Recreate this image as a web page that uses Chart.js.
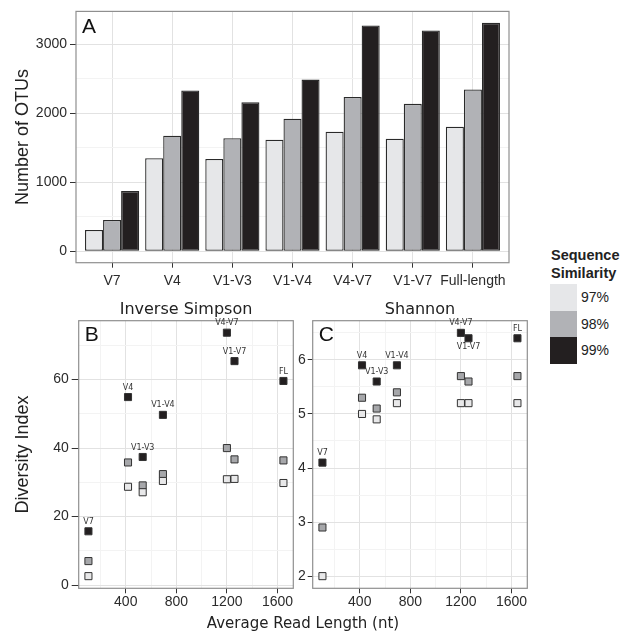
<!DOCTYPE html>
<html>
<head>
<meta charset="utf-8">
<script src="https://cdn.jsdelivr.net/npm/chart.js@4.4.1/dist/chart.umd.min.js"></script>
<style>
  body { margin: 0; background: #fff; width: 630px; height: 633px; position: relative; overflow: hidden;
         font-family: "Liberation Sans", Arial, sans-serif; color: #222; }
  canvas { position: absolute; }
  #chartA { left: 0; top: 0; }
  #chartB { left: 0; top: 295px; }
  #chartC { left: 290px; top: 295px; }
  #xtitle { position: absolute; left: 0; width: 606px; top: 614px; text-align: center;
            font: 15px "DejaVu Sans"; color: #222; }
  #legend { position: absolute; left: 550px; top: 247px; }
  #legend .ttl { font-weight: bold; font-size: 14.5px; line-height: 17.5px; margin-left: 1px; }
  #legend .keys { margin-top: 2px; }
  #legend .row { display: flex; align-items: center; height: 26.5px; }
  #legend .box { width: 27px; height: 26.5px; }
  #legend .lab { font-size: 14px; margin-left: 4px; }
</style>
</head>
<body>
<canvas id="chartA" width="540" height="295"></canvas>
<canvas id="chartB" width="300" height="320"></canvas>
<canvas id="chartC" width="250" height="320"></canvas>
<div id="xtitle">Average Read Length (nt)</div>
<div id="legend">
  <div class="ttl">Sequence<br>Similarity</div>
  <div class="keys" id="keys"></div>
</div>
<script>
// panel A: number of OTUs per region
let categories = ['V7', 'V4', 'V1-V3', 'V1-V4', 'V4-V7', 'V1-V7', 'Full-length'];
let otus97 = [309, 1350, 1340, 1618, 1734, 1633, 1806];
let otus98 = [453, 1676, 1639, 1922, 2240, 2139, 2347];
let otus99 = [873, 2332, 2163, 2491, 3276, 3204, 3315];

// panels B and C: diversity vs read length
let shortLabels = ['V7', 'V4', 'V1-V3', 'V1-V4', 'V4-V7', 'V1-V7', 'FL'];
let readLength = [105, 418, 534, 694, 1200, 1260, 1647];
let invSimpson97 = [2.6, 28.7, 27.1, 30.4, 30.9, 31.0, 29.8];
let invSimpson98 = [7.0, 35.8, 29.1, 32.4, 40.0, 36.7, 36.4];
let invSimpson99 = [15.7, 54.9, 37.4, 49.7, 73.7, 65.4, 59.6];
let shannon97 = [2.0, 5.0, 4.9, 5.2, 5.2, 5.2, 5.2];
let shannon98 = [2.9, 5.3, 5.1, 5.4, 5.7, 5.6, 5.7];
let shannon99 = [4.1, 5.9, 5.6, 5.9, 6.5, 6.4, 6.4];

let similarity = ['97%', '98%', '99%'];

// tick values (major get labels, minor only light grid)
let otuTicks = [0, 1000, 2000, 3000];
let otuMinor = [500, 1500, 2500];
let lengthTicks = [400, 800, 1200, 1600];
let lengthMinor = [200, 600, 1000, 1400];
let simpsonTicks = [0, 20, 40, 60];
let simpsonMinor = [10, 30, 50, 70];
let shannonTicks = [2, 3, 4, 5, 6];
let shannonMinor = [2.5, 3.5, 4.5, 5.5, 6.5];

let barColors = ['#e6e7e9', '#b1b2b6', '#231f20'];
let pointColors = ['#e8e8e9', '#a6a7aa', '#231f20'];

// legend (html)
let keys = document.getElementById('keys');
similarity.forEach((s, i) => {
  keys.innerHTML += '<div class="row"><div class="box" style="background:' + barColors[i] + '"></div><div class="lab">' + s + '</div></div>';
});

const tickFont = { family: 'Liberation Sans', size: 14 };

function linScale(majors, minors, min, max, tickLen, pad, fit, labelFn) {
  let all = majors.concat(minors).sort((a, b) => a - b);
  let isMinor = c => c.tick && minors.includes(c.tick.value);
  return {
    type: 'linear', min: min, max: max, offset: false,
    afterBuildTicks: s => { s.ticks = all.map(v => ({ value: v })); },
    afterFit: fit,
    grid: {
      color: c => isMinor(c) ? '#f3f3f3' : '#e2e2e2',
      tickColor: c => isMinor(c) ? 'rgba(0,0,0,0)' : '#333',
      tickLength: tickLen, lineWidth: 1, offset: false
    },
    border: { display: false },
    ticks: {
      font: tickFont, color: '#2b2b2b', padding: pad, autoSkip: false, maxRotation: 0,
      callback: v => minors.includes(v) ? '' : (labelFn ? labelFn(v) : String(v))
    }
  };
}

// panel frame + letter
const panelPlugin = {
  id: 'panel',
  afterDatasetsDraw(chart, args, opts) {
    let a = chart.chartArea, ctx = chart.ctx;
    ctx.save();
    ctx.strokeStyle = '#8f8f8f';
    ctx.lineWidth = 1.2;
    ctx.strokeRect(a.left, a.top, a.right - a.left, a.bottom - a.top);
    ctx.fillStyle = '#111';
    ctx.font = '21px "Liberation Sans"';
    ctx.textAlign = 'left';
    ctx.textBaseline = 'alphabetic';
    ctx.fillText(opts.letter, a.left + 6, a.top + opts.dy);
    ctx.restore();
  }
};

// region names over the 99% points
const pointLabelPlugin = {
  id: 'pointLabels',
  afterDatasetsDraw(chart, args, opts) {
    let meta = chart.getDatasetMeta(2), ctx = chart.ctx;
    ctx.save();
    ctx.font = '8px "DejaVu Sans"';
    ctx.fillStyle = '#333';
    ctx.textAlign = 'center';
    ctx.textBaseline = 'middle';
    meta.data.forEach((pt, i) => {
      let below = (opts.below || []).includes(shortLabels[i]);
      ctx.fillText(shortLabels[i], pt.x, below ? pt.y + 8.5 : pt.y - 9.5);
    });
    ctx.restore();
  }
};

Chart.defaults.animation = false;
Chart.defaults.font.family = 'Liberation Sans';

// A
new Chart(document.getElementById('chartA'), {
  type: 'bar',
  data: {
    datasets: [otus97, otus98, otus99].map((vals, k) => ({
      label: similarity[k],
      data: vals.map((v, i) => ({ x: i, y: v })),
      backgroundColor: barColors[k],
      borderColor: '#2a2a2a',
      borderWidth: 1.3,
      borderSkipped: false,
      categoryPercentage: 0.9,
      barPercentage: 1.0
    }))
  },
  options: {
    responsive: false,
    layout: { padding: { top: 10.7, right: 31, left: 0, bottom: 0 } },
    events: [],
    plugins: { legend: { display: false }, tooltip: { enabled: false }, panel: { letter: 'A', dy: 21.6 } },
    scales: {
      x: linScale([0, 1, 2, 3, 4, 5, 6], [], -0.6, 6.6, 5, 5, s => { s.height = 32.3; }, v => categories[v]),
      y: Object.assign(linScale(otuTicks, otuMinor, -166, 3481, 6, 3, s => { s.width = 76; }), {
        title: { display: true, text: 'Number of OTUs', color: '#222',
                 font: { family: 'Liberation Sans', size: 18 }, padding: { top: 12.2, bottom: 0 } }
      })
    }
  },
  plugins: [panelPlugin]
});

function scatterSets(s97, s98, s99) {
  return [s97, s98, s99].map((vals, k) => ({
    label: similarity[k],
    data: readLength.map((x, i) => ({ x: x, y: vals[i] })),
    pointStyle: 'rect',
    pointRadius: 5,
    backgroundColor: pointColors[k],
    borderColor: '#333',
    borderWidth: 1
  }));
}

// B
new Chart(document.getElementById('chartB'), {
  type: 'scatter',
  data: { datasets: scatterSets(invSimpson97, invSimpson98, invSimpson99) },
  options: {
    responsive: false,
    layout: { padding: { top: 0, right: 6.7, left: 0, bottom: 0 } },
    events: [],
    plugins: {
      legend: { display: false }, tooltip: { enabled: false },
      title: { display: true, text: 'Inverse Simpson', fullSize: false, color: '#222',
               font: { family: 'DejaVu Sans', size: 16, weight: 'normal' }, padding: { top: 5.4, bottom: 1.1 } },
      panel: { letter: 'B', dy: 20 },
      pointLabels: { below: [] }
    },
    scales: {
      x: linScale(lengthTicks, lengthMinor, 28, 1725, 5, 0, s => { s.height = 26.7; }),
      y: Object.assign(linScale(simpsonTicks, simpsonMinor, -0.95, 77.2, 7, 3, s => { s.width = 78.7; }), {
        title: { display: true, text: 'Diversity Index', color: '#222',
                 font: { family: 'Liberation Sans', size: 18 }, padding: { top: 12.2, bottom: 0 } }
      })
    }
  },
  plugins: [panelPlugin, pointLabelPlugin]
});

// C
new Chart(document.getElementById('chartC'), {
  type: 'scatter',
  data: { datasets: scatterSets(shannon97, shannon98, shannon99) },
  options: {
    responsive: false,
    layout: { padding: { top: 0, right: 12.7, left: 0, bottom: 0 } },
    events: [],
    plugins: {
      legend: { display: false }, tooltip: { enabled: false },
      title: { display: true, text: 'Shannon', fullSize: false, color: '#222',
               font: { family: 'DejaVu Sans', size: 16, weight: 'normal' }, padding: { top: 5.4, bottom: 1.1 } },
      panel: { letter: 'C', dy: 20 },
      pointLabels: { below: ['V1-V7'] }
    },
    scales: {
      x: linScale(lengthTicks, lengthMinor, 28, 1725, 5, 0, s => { s.height = 26.7; }),
      y: linScale(shannonTicks, shannonMinor, 1.775, 6.725, 5, 2, s => { s.width = 22.7; })
    }
  },
  plugins: [panelPlugin, pointLabelPlugin]
});
</script>
</body>
</html>
